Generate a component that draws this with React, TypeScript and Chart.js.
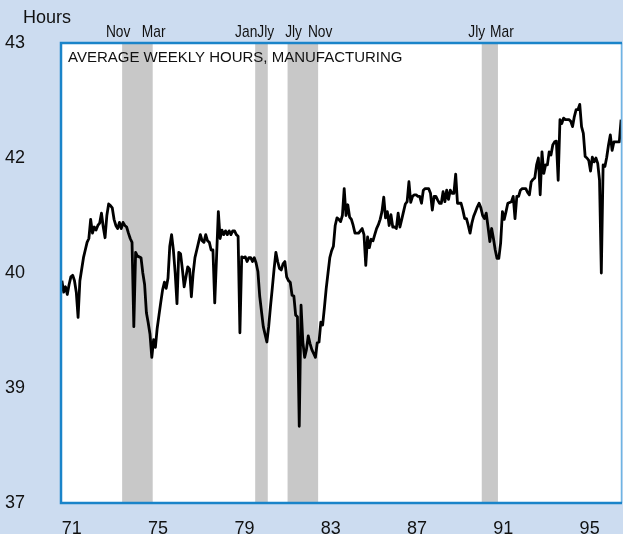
import React, { useEffect, useRef } from "react";
import { Chart, registerables } from "chart.js";

Chart.register(...registerables);

// ---- Data (monthly average weekly hours, manufacturing) ----
const years = [1971, 1972, 1973, 1974, 1975, 1976, 1977, 1978, 1979, 1980, 1981, 1982, 1983,
  1984, 1985, 1986, 1987, 1988, 1989, 1990, 1991, 1992, 1993, 1994, 1995, 1996];

const h1971 = [39.9, 39.75, 39.82, 39.72, 39.85, 39.95, 39.97, 39.9, 39.75, 39.42, 39.9, 40.05];
const h1972 = [40.2, 40.3, 40.4, 40.45, 40.7, 40.52, 40.6, 40.56, 40.62, 40.65, 40.78, 40.6];
const h1973 = [40.46, 40.75, 40.9, 40.88, 40.85, 40.7, 40.62, 40.58, 40.66, 40.58, 40.66, 40.62];
const h1974 = [40.6, 40.52, 40.45, 40.4, 39.3, 40.27, 40.22, 40.21, 40.2, 40.0, 39.85, 39.48];
const h1975 = [39.35, 39.2, 38.9, 39.13, 39.03, 39.28, 39.45, 39.62, 39.78, 39.88, 39.8, 39.93];
const h1976 = [40.35, 40.5, 40.3, 40.0, 39.6, 40.27, 40.25, 40.05, 39.82, 39.95, 40.08, 40.05];
const h1977 = [39.69, 40.0, 40.2, 40.3, 40.4, 40.5, 40.42, 40.4, 40.5, 40.42, 40.4, 40.3];
const h1978 = [40.3, 39.61, 40.2, 40.8, 40.45, 40.56, 40.5, 40.55, 40.5, 40.55, 40.5, 40.55];
const h1979 = [40.55, 40.5, 40.48, 39.22, 40.21, 40.2, 40.21, 40.15, 40.2, 40.2, 40.15, 40.2];
const h1980 = [40.13, 40.02, 39.7, 39.5, 39.3, 39.2, 39.1, 39.3, 39.56, 39.8, 40.05, 40.27];
const h1981 = [40.15, 40.06, 40.04, 40.12, 40.15, 39.95, 39.9, 39.88, 39.71, 39.7, 39.45, 39.43];
const h1982 = [38.0, 39.58, 39.1, 38.9, 39.0, 39.18, 39.08, 39.0, 38.95, 38.9, 39.09, 39.1];
const h1983 = [39.36, 39.32, 39.55, 39.8, 40.0, 40.2, 40.29, 40.35, 40.62, 40.72, 40.7, 40.67];
const h1984 = [40.75, 41.1, 40.75, 40.89, 40.73, 40.7, 40.62, 40.52, 40.52, 40.52, 40.55, 40.58];
const h1985 = [40.5, 40.1, 40.47, 40.33, 40.44, 40.42, 40.5, 40.58, 40.63, 40.7, 40.8, 40.99];
const h1986 = [40.72, 40.8, 40.62, 40.76, 40.6, 40.6, 40.58, 40.78, 40.6, 40.7, 40.8, 40.9];
const h1987 = [40.93, 41.19, 40.92, 41.0, 41.02, 41.02, 41.0, 41.0, 40.91, 41.08, 41.1, 41.1];
const h1988 = [41.1, 41.04, 40.82, 41.0, 41.0, 40.95, 40.91, 40.91, 41.06, 40.93, 41.08, 40.96];
const h1989 = [41.08, 41.04, 41.04, 41.29, 40.91, 40.91, 40.91, 40.82, 40.71, 40.71, 40.62, 40.52];
const h1990 = [40.65, 40.74, 40.8, 40.86, 40.91, 40.85, 40.75, 40.71, 40.78, 40.6, 40.41, 40.58];
const h1991 = [40.45, 40.3, 40.19, 40.19, 40.39, 40.8, 40.7, 40.8, 40.91, 40.92, 40.93, 41.0];
const h1992 = [40.71, 41.0, 41.0, 41.08, 41.1, 41.1, 41.1, 41.05, 41.02, 41.19, 41.22, 41.24];
const h1993 = [41.41, 41.5, 41.02, 41.58, 41.3, 41.41, 41.41, 41.58, 41.54, 41.67, 41.71, 41.72];
const h1994 = [41.21, 42.0, 41.95, 42.02, 42.0, 42.0, 42.0, 41.98, 41.91, 42.04, 42.13, 42.13];
const h1995 = [42.2, 41.91, 41.82, 41.52, 41.5, 41.47, 41.33, 41.51, 41.45, 41.5, 41.43, 41.21];
const h1996 = [40.0, 41.41, 41.39, 41.51, 41.67, 41.8, 41.6, 41.71, 41.71, 41.71, 41.71, 42.0];

const hoursByYear = [h1971, h1972, h1973, h1974, h1975, h1976, h1977, h1978, h1979, h1980,
  h1981, h1982, h1983, h1984, h1985, h1986, h1987, h1988, h1989, h1990, h1991, h1992, h1993,
  h1994, h1995, h1996];

// Recessions (shaded)
const recessionStartYear = [1973, 1980, 1981, 1990];
const recessionStartMonth = [11, 1, 7, 7];
const recessionEndYear = [1975, 1980, 1982, 1991];
const recessionEndMonth = [3, 7, 11, 3];
const recessionStartLabel = ["Nov", "Jan", "Jly", "Jly"];
const recessionEndLabel = ["Mar", "Jly", "Nov", "Mar"];

// Axis ticks
const xTickValues = [1971.5, 1975.5, 1979.5, 1983.5, 1987.5, 1991.5, 1995.5];
const xTickLabels = ["71", "75", "79", "83", "87", "91", "95"];
const yTickValues = [37, 38.5, 40, 41.5, 43];
const yTickLabels = ["37", "39", "40", "42", "43"];

const chartTitle = "AVERAGE WEEKLY HOURS, MANUFACTURING";
const yUnitLabel = "Hours";

// ---- Styling / layout ----
const FONT = '"Liberation Sans", Arial, Helvetica, sans-serif';
const BG = "rgb(204, 220, 240)";
const BORDER = "rgb(26, 132, 201)";
const BORDER_RIGHT = "rgb(110, 180, 228)";
const SHADE = "rgb(200, 200, 200)";
// pixel offsets of recession labels relative to their dates
const startLabelOffset = [-4, -9, 6, -5];
const endLabelOffset = [1, -2, 2, 4];

const decorPlugin = {
  id: "decor",
  beforeDraw(chart: any) {
    const { ctx, chartArea: a, width, height } = chart;
    ctx.save();
    ctx.fillStyle = BG;
    ctx.fillRect(0, 0, width, height);
    ctx.fillStyle = "#ffffff";
    ctx.fillRect(a.left, a.top, a.right - a.left, a.bottom - a.top);
    const xs = chart.scales.x;
    ctx.fillStyle = SHADE;
    for (let i = 0; i < recessionStartYear.length; i++) {
      const x0 = xs.getPixelForValue(recessionStartYear[i] + (recessionStartMonth[i] - 1) / 12);
      const x1 = xs.getPixelForValue(recessionEndYear[i] + recessionEndMonth[i] / 12);
      ctx.fillRect(x0, a.top, x1 - x0, a.bottom - a.top);
    }
    ctx.restore();
  },
  afterDraw(chart: any) {
    const { ctx, chartArea: a } = chart;
    const xs = chart.scales.x;
    ctx.save();
    // border
    ctx.strokeStyle = BORDER_RIGHT;
    ctx.lineWidth = 1.5;
    ctx.beginPath();
    ctx.moveTo(a.right - 0.5, a.top);
    ctx.lineTo(a.right - 0.5, a.bottom);
    ctx.stroke();
    ctx.strokeStyle = BORDER;
    ctx.lineWidth = 2.5;
    ctx.beginPath();
    ctx.moveTo(a.right, a.top);
    ctx.lineTo(a.left, a.top);
    ctx.lineTo(a.left, a.bottom);
    ctx.lineTo(a.right, a.bottom);
    ctx.stroke();

    // title inside plot
    ctx.fillStyle = "#111";
    ctx.font = `15px ${FONT}`;
    ctx.textAlign = "left";
    ctx.textBaseline = "alphabetic";
    ctx.fillText(chartTitle, a.left + 7, a.top + 19);

    // unit label
    ctx.font = `18px ${FONT}`;
    ctx.fillText(yUnitLabel, 23, 23);

    // recession labels
    ctx.font = `17px ${FONT}`;
    ctx.textAlign = "center";
    const drawCond = (text: string, cx: number) => {
      ctx.save();
      ctx.translate(cx, 36.5);
      ctx.scale(0.81, 1);
      ctx.fillText(text, 0, 0);
      ctx.restore();
    };
    for (let i = 0; i < recessionStartYear.length; i++) {
      const xs0 = xs.getPixelForValue(recessionStartYear[i] + (recessionStartMonth[i] - 1) / 12);
      const xe0 = xs.getPixelForValue(recessionEndYear[i] + recessionEndMonth[i] / 12);
      drawCond(recessionStartLabel[i], xs0 + startLabelOffset[i]);
      drawCond(recessionEndLabel[i], xe0 + endLabelOffset[i]);
    }
    ctx.restore();
  },
};

export default function App() {
  const ref = useRef<HTMLCanvasElement | null>(null);
  useEffect(() => {
    document.body.style.margin = "0";
    const points: { x: number; y: number }[] = [];
    years.forEach((yr, yi) => {
      hoursByYear[yi].forEach((v, m) => {
        points.push({ x: yr + (m + 0.5) / 12, y: v });
      });
    });
    const chart = new Chart(ref.current as HTMLCanvasElement, {
      type: "line",
      data: {
        datasets: [
          {
            data: points,
            borderColor: "#000",
            borderWidth: 2.8,
            pointRadius: 0,
            tension: 0,
            borderJoinStyle: "round",
          },
        ],
      },
      options: {
        animation: false,
        responsive: false,
        devicePixelRatio: 1,
        layout: { padding: { top: 43, right: 1, left: 0, bottom: 0 } },
        plugins: {
          legend: { display: false },
          tooltip: { enabled: false },
          title: { display: false },
        },
        scales: {
          x: {
            type: "linear",
            min: 1971,
            max: 1997,
            grid: { display: false },
            border: { display: false },
            afterBuildTicks: (s: any) => {
              s.ticks = xTickValues.map((v) => ({ value: v }));
            },
            afterFit: (s: any) => {
              s.height = 31;
              s.paddingLeft = 0;
              s.paddingRight = 0;
            },
            ticks: {
              autoSkip: false,
              maxRotation: 0,
              padding: 7,
              color: "#111",
              font: { family: FONT, size: 18 },
              callback: (_v: any, i: number) => xTickLabels[i],
            },
          },
          y: {
            type: "linear",
            min: 37,
            max: 43,
            grid: { display: false },
            border: { display: false },
            afterBuildTicks: (s: any) => {
              s.ticks = yTickValues.map((v) => ({ value: v }));
            },
            afterFit: (s: any) => {
              s.width = 61;
              s.paddingTop = 0;
              s.paddingBottom = 0;
            },
            ticks: {
              autoSkip: false,
              padding: 28,
              color: "#111",
              font: { family: FONT, size: 18 },
              callback: (_v: any, i: number) => yTickLabels[i],
            },
          },
        },
      },
      plugins: [decorPlugin],
    });
    return () => chart.destroy();
  }, []);
  return <canvas ref={ref} width={623} height={534} style={{ display: "block" }} />;
}
